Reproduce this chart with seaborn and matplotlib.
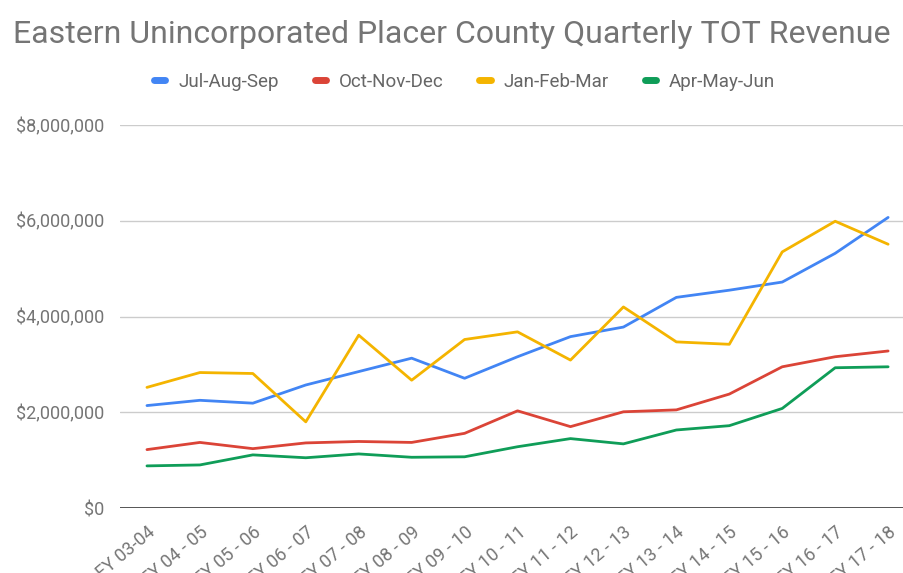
import matplotlib
matplotlib.use("Agg")
import matplotlib.pyplot as plt
import matplotlib.ticker as mticker
import pandas as pd
import seaborn as sns

# fiscal years on the x axis
fiscal_years = [
    "FY 03-04", "FY 04 - 05", "FY 05 - 06", "FY 06 - 07", "FY 07 - 08",
    "FY 08 - 09", "FY 09 - 10", "FY 10 - 11", "FY 11 - 12", "FY 12 - 13",
    "FY 13 - 14", "FY 14 - 15", "FY 15 - 16", "FY 16 - 17", "FY 17 - 18",
]

# quarterly TOT revenue, millions of dollars
jul_aug_sep = [2.14, 2.25, 2.19, 2.57, 2.85, 3.13, 2.71, 3.16, 3.58, 3.78, 4.40, 4.55, 4.72, 5.32, 6.07]
oct_nov_dec = [1.22, 1.37, 1.24, 1.36, 1.39, 1.37, 1.56, 2.03, 1.70, 2.01, 2.05, 2.38, 2.95, 3.16, 3.28]
jan_feb_mar = [2.52, 2.83, 2.81, 1.80, 3.61, 2.67, 3.52, 3.68, 3.09, 4.20, 3.47, 3.42, 5.35, 5.99, 5.51]
apr_may_jun = [0.88, 0.90, 1.11, 1.05, 1.13, 1.06, 1.07, 1.28, 1.45, 1.34, 1.63, 1.72, 2.08, 2.93, 2.95]

quarters = ["Jul-Aug-Sep", "Oct-Nov-Dec", "Jan-Feb-Mar", "Apr-May-Jun"]
colors = ["#4285F4", "#DB4437", "#F4B400", "#0F9D58"]

series = dict(zip(quarters, [jul_aug_sep, oct_nov_dec, jan_feb_mar, apr_may_jun]))
rows = []
for q, vals in series.items():
    for i, v in enumerate(vals):
        rows.append({"idx": i, "quarter": q, "revenue": v * 1_000_000})
df = pd.DataFrame(rows)

sns.set_style("white")
plt.rcParams["font.family"] = ["Roboto", "DejaVu Sans"]

fig = plt.figure(figsize=(9.04, 5.73), dpi=100)
ax = fig.add_axes([0.1327, 0.1134, 0.8673, 0.6684])

sns.lineplot(
    data=df, x="idx", y="revenue", hue="quarter", hue_order=quarters,
    palette=colors, linewidth=2.0, ax=ax, legend=False,
)

ax.set_xlim(-0.51, 14.3)
ax.set_ylim(0, 8_000_000)
ax.set_yticks([0, 2_000_000, 4_000_000, 6_000_000, 8_000_000])
ax.yaxis.set_major_formatter(mticker.FuncFormatter(lambda v, p: f"${v:,.0f}"))
ax.set_xticks(range(len(fiscal_years)))
# the source screenshot cuts these labels off at the bottom edge
ax.set_xticklabels(fiscal_years, rotation=40, ha="right", rotation_mode="anchor")
ax.tick_params(axis="x", length=0, pad=11, labelsize=13, labelcolor="#757575")
ax.tick_params(axis="y", length=0, pad=11, labelsize=13, labelcolor="#757575")
ax.set_xlabel("")
ax.set_ylabel("")

ax.grid(axis="y", color="#cccccc", linewidth=1)
for s in ax.spines.values():
    s.set_visible(False)
ax.axhline(0, color="#555555", linewidth=1.4, zorder=1)

fig.text(0.5, 0.94, "Eastern Unincorporated Placer County Quarterly TOT Revenue",
         ha="center", va="center", fontsize=23, color="#757575")

handles = [plt.Line2D([], [], color=c, linewidth=5) for c in colors]
fig.legend(handles, quarters, loc="center", bbox_to_anchor=(0.514, 0.857), ncol=4,
           frameon=False, fontsize=13.5, handlelength=0.6, columnspacing=1.9,
           handletextpad=0.7, labelcolor="#666666")

fig.savefig("out.png", dpi=100)
